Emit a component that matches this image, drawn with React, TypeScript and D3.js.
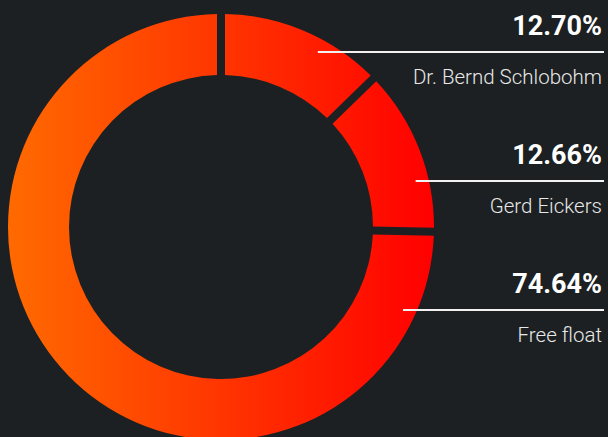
import React from "react";
import * as d3 from "d3";

const names = ["Dr. Bernd Schlobohm", "Gerd Eickers", "Free float"];
const values = [12.7, 12.66, 74.64];
const valueLabels = ["12.70%", "12.66%", "74.64%"];

const W = 608;
const H = 437;
const BG = "#1c2022";
const CX = 221;
const CY = 227;
const R_OUT = 213;
const R_IN = 152;
const GAP = 8;
const ROW_TOP = 52;
const ROW_STEP = 129;
const LINE_R = 200;
const TEXT_RIGHT = 602;

export default function App() {
  const pie = d3.pie<number>().sort(null).value((d) => d);
  const arcs = pie(values);
  const arc = d3
    .arc<d3.PieArcDatum<number>>()
    .innerRadius(R_IN)
    .outerRadius(R_OUT)
    .padRadius(R_OUT)
    .padAngle(GAP / R_OUT);

  const rowY = d3.scaleLinear().domain([0, 1]).range([ROW_TOP, ROW_TOP + ROW_STEP]);

  return (
    <div style={{ position: "fixed", left: 0, top: 0, width: W, height: H, background: BG }}>
      <svg width={W} height={H} style={{ display: "block" }}>
        <defs>
          <linearGradient
            id="ringGrad"
            gradientUnits="userSpaceOnUse"
            x1={-R_OUT}
            y1={0}
            x2={R_OUT}
            y2={0}
          >
            <stop offset="0" stopColor="#ff6a00" />
            <stop offset="1" stopColor="#ff0000" />
          </linearGradient>
        </defs>
        <rect width={W} height={H} fill={BG} />
        <g transform={`translate(${CX},${CY})`}>
          {arcs.map((a, i) => (
            <path key={i} d={arc(a) || ""} fill="url(#ringGrad)" />
          ))}
        </g>
        {names.map((n, i) => {
          const y = rowY(i);
          const dy = y - CY;
          const x0 = CX + Math.sqrt(Math.max(0, LINE_R * LINE_R - dy * dy));
          return (
            <g key={n}>
              <line x1={x0} x2={604} y1={y} y2={y} stroke="#f2f2f2" strokeWidth={2.2} />
              <text
                x={TEXT_RIGHT}
                y={y - 17}
                textAnchor="end"
                fill="#ffffff"
                fontFamily="Roboto, sans-serif"
                fontWeight={700}
                fontSize={27}
              >
                {valueLabels[i]}
              </text>
              <text
                x={TEXT_RIGHT}
                y={y + 32}
                textAnchor="end"
                fill="#e8e8e8"
                fontFamily="Roboto, sans-serif"
                fontWeight={300}
                fontSize={20.5}
              >
                {n}
              </text>
            </g>
          );
        })}
      </svg>
    </div>
  );
}
